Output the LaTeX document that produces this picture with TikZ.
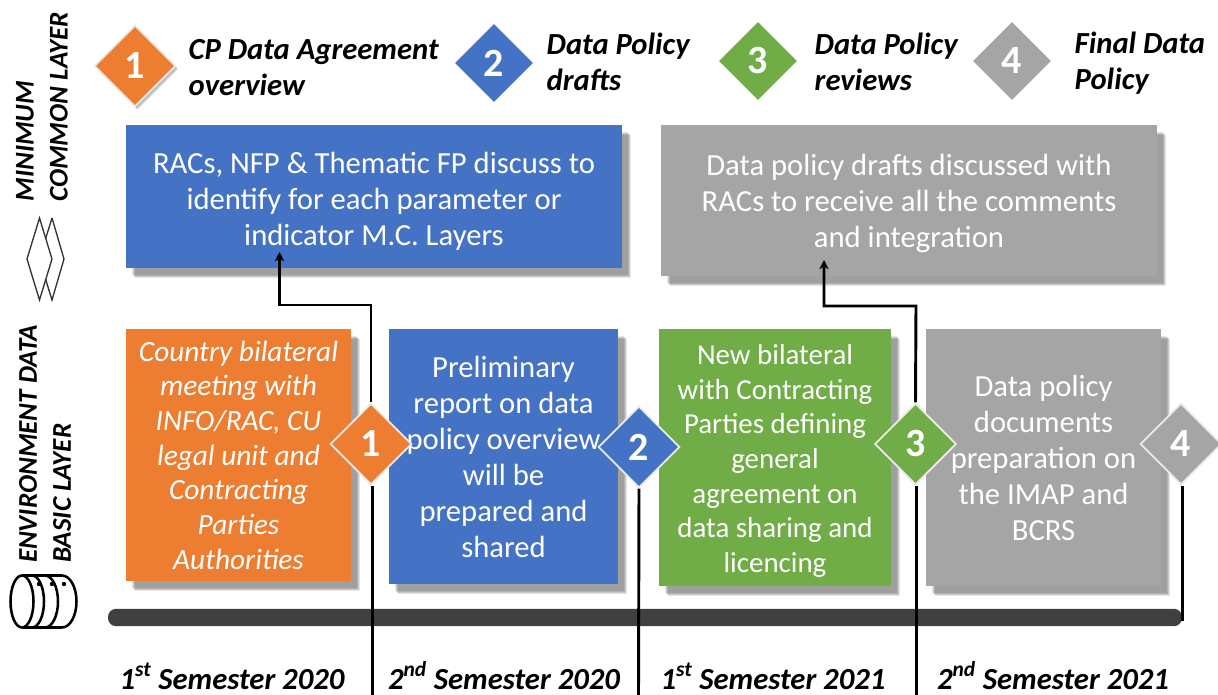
\documentclass[tikz,border=0pt]{standalone}
\usepackage{fontspec}
\setmainfont{Carlito}
\usetikzlibrary{shapes.geometric,shadows,arrows.meta}
\definecolor{cor}{HTML}{ED7D31}
\definecolor{cbl}{HTML}{4472C4}
\definecolor{cgr}{HTML}{70AD47}
\definecolor{cgy}{HTML}{A5A5A5}
\definecolor{cbar}{HTML}{404040}
\newcommand{\lowerby}[1]{\rule{0pt}{#1}}
\tikzset{
  softshadow/.style={
    drop shadow={shadow xshift=4.5pt,shadow yshift=-5.2pt,fill=black,opacity=0.10},
    drop shadow={shadow xshift=5.2pt,shadow yshift=-5.9pt,fill=black,opacity=0.12},
    drop shadow={shadow xshift=5.9pt,shadow yshift=-6.6pt,fill=black,opacity=0.12},
    drop shadow={shadow xshift=6.6pt,shadow yshift=-7.3pt,fill=black,opacity=0.10}},
  lightshadow/.style={
    drop shadow={shadow xshift=1.2pt,shadow yshift=-1.6pt,fill=black,opacity=0.15},
    drop shadow={shadow xshift=2pt,shadow yshift=-2.4pt,fill=black,opacity=0.15}},
  panel/.style={rectangle,inner sep=0pt,text=white,align=center,softshadow,font=\fontsize{23}{27}\selectfont},
  flag/.style={diamond,aspect=1,inner sep=0pt,minimum size=61pt,draw=white!92!black,line width=1.3pt,text=white,font=\fontsize{30}{30}\bfseries\selectfont},
  plainflag/.style={flag,draw=none,minimum size=59pt},
  headtext/.style={anchor=west,align=left,font=\fontsize{23}{27}\bfseries\itshape\selectfont},
  semtext/.style={anchor=base,font=\fontsize{23}{24}\bfseries\itshape\selectfont},
  sidetext/.style={rotate=90,align=left,font=\fontsize{20.3}{25.5}\bfseries\itshape\selectfont},
  link/.style={draw=black,line width=2.2pt},
  icon/.style={draw=black!80,line width=1pt},
  dbicon/.style={draw=black,line width=1.9pt}
}
\begin{document}
\begin{tikzpicture}[x=0.75pt,y=-0.75pt]
\useasboundingbox (0,0) rectangle (1218,695);
% timeline bar
\node[rectangle,rounded corners=6pt,fill=cbar,inner sep=0pt,minimum width=805.5pt,minimum height=13pt] (bar) at (645,617.5) {};
% upper panels
\node[panel,fill=cbl,minimum width=372pt,minimum height=107pt,font=\fontsize{23}{27}\selectfont] (up1) at (374,196.5) {\lowerby{23pt}RACs, NFP \& Thematic FP discuss to\\identify for each parameter or\\indicator M.C. Layers};
\node[panel,fill=cgy,minimum width=372pt,minimum height=113pt] (up2) at (909,200.5) {\lowerby{21pt}Data policy drafts discussed with\\RACs to receive all the comments\\and integration};
% lower panels
\node[panel,fill=cor,minimum width=169pt,minimum height=189pt,font=\fontsize{22}{26}\itshape\selectfont] (p1) at (238.5,455) {Country bilateral\\meeting with\\INFO/RAC, CU\\legal unit and\\Contracting\\Parties\\Authorities};
\node[panel,fill=cbl,minimum width=172pt,minimum height=191pt] (p2) at (503.5,456.5) {Preliminary\\report on data\\policy overview\\will be\\prepared and\\shared};
\node[panel,fill=cgr,minimum width=174pt,minimum height=193pt,font=\fontsize{21.7}{26}\selectfont] (p3) at (775,457.5) {\lowerby{20pt}New bilateral\\with Contracting\\Parties defining\\general\\agreement on\\data sharing and\\licencing};
\node[panel,fill=cgy,minimum width=176pt,minimum height=193pt] (p4) at (1043.5,457.5) {Data policy\\documents\\preparation on\\the IMAP and\\BCRS};
% timeline flags
\node[flag,fill=cor] (m1) at (371,444) {1};
\node[flag,fill=cbl] (m2) at (639,447) {2};
\node[flag,fill=cgr] (m3) at (915.5,444) {3};
\node[flag,fill=cgy] (m4) at (1181,444) {4};
% connectors
\coordinate (u1t) at (279.5,252);
\coordinate (u2t) at (824,260);
\coordinate (e1) at (372.5,695);
\coordinate (e2) at (638.5,695);
\coordinate (e3) at (916.5,695);
\coordinate (e4) at (1182.5,621);
\draw[link,-{Stealth[length=7pt,width=7pt]}] (m1.north) -- (371,305) -| (u1t);
\draw[link,-{Stealth[length=7pt,width=7pt]}] (m3.north) -- (916,306) -| (u2t);
\draw[link] (m1.south) ++(1.5,0) -- (e1);
\draw[link] (m2.south) -- (e2);
\draw[link] (m3.south) ++(1,0) -- (e3);
\draw[link] (m4.south) ++(1.5,0) -- (e4);
% legend
\node[flag,fill=cor,lightshadow] (l1) at (135,66) {1};
\node[plainflag,fill=cbl] (l2) at (494,63) {2};
\node[plainflag,fill=cgr] (l3) at (758,61) {3};
\node[plainflag,fill=cgy] (l4) at (1012,61) {4};
\node[headtext] (t1) at (184,68) {CP Data Agreement\\overview};
\node[headtext] (t2) at (542,62) {Data Policy\\drafts};
\node[headtext] (t3) at (810,62) {Data Policy\\reviews};
\node[headtext] (t4) at (1070,63) {Final Data\\Policy};
% semesters
\node[semtext] (s1) at (232,689) {1\textsuperscript{st} Semester 2020};
\node[semtext] (s2) at (504,689) {2\textsuperscript{nd} Semester 2020};
\node[semtext] (s3) at (773,689) {1\textsuperscript{st} Semester 2021};
\node[semtext] (s4) at (1053,689) {2\textsuperscript{nd} Semester 2021};
% side labels
\node[sidetext] (side1) at (42,107) {MINIMUM\\COMMON LAYER};
\node[sidetext] (side2) at (45,444) {ENVIRONMENT DATA\\BASIC LAYER};
% layer icon: overlapping diamonds
\draw[icon] (39.5,218) -- (52,259) -- (39.5,300) -- (27,259) -- cycle;
\draw[icon] (52,218) -- (64,259) -- (52,300) -- (45.5,279);
\draw[icon] (45.5,239) -- (52,218);
% database icon
\draw[dbicon] (22,601.5) ellipse [x radius=11.5,y radius=26];
\draw[dbicon] (22,575.5) -- (62,575.5) arc [start angle=-90,end angle=90,x radius=14.5,y radius=26] -- (22,627.5);
\draw[dbicon] (32,575.5) arc [start angle=-90,end angle=90,x radius=12,y radius=26];
\draw[dbicon] (45,575.5) arc [start angle=-90,end angle=90,x radius=13,y radius=26];
\fill (39,584) circle [radius=2.2] (52,584) circle [radius=2.2] (64,584) circle [radius=2.2];
\end{tikzpicture}
\end{document}
